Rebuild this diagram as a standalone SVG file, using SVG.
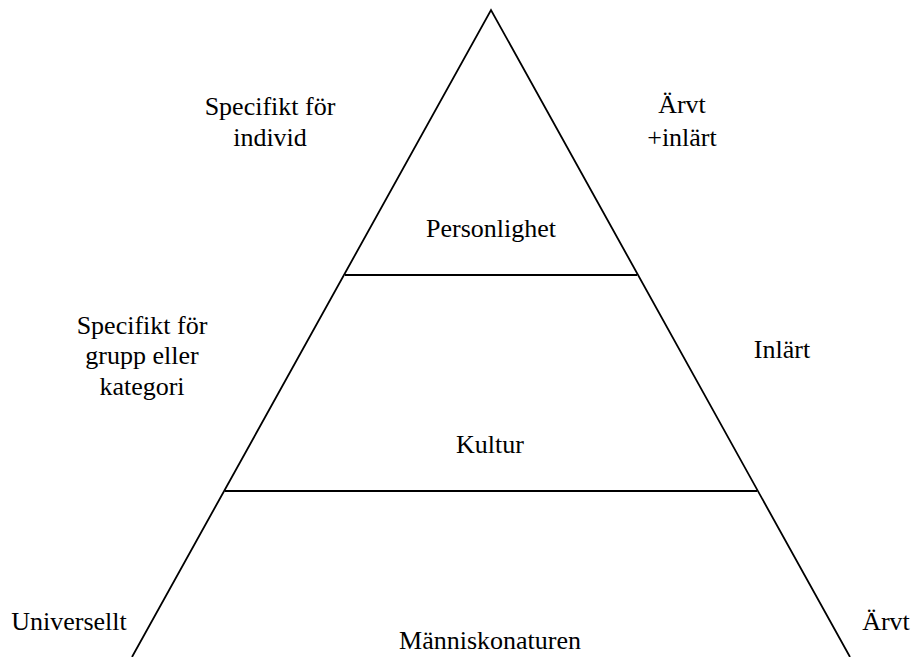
<svg xmlns="http://www.w3.org/2000/svg" width="913" height="657" viewBox="0 0 913 657">
  <style>
    .edge { stroke: #000; stroke-width: 1.8; fill: none; }
    .lbl { font-family: "Liberation Serif", "Times New Roman", serif; font-size: 26px; fill: #000; text-anchor: middle; }
  </style>
  <rect width="913" height="657" fill="#fff"/>

  <!-- pyramid outline and layer dividers -->
  <g id="connectors">
    <path class="edge" d="M132,657 L491,10 L850,657"/>
    <line class="edge" x1="345" y1="275" x2="637" y2="275"/>
    <line class="edge" x1="225" y1="491" x2="757" y2="491"/>
  </g>

  <g id="personlighet">
    <text class="lbl" x="491" y="237">Personlighet</text>
  </g>
  <g id="kultur">
    <text class="lbl" x="490" y="453">Kultur</text>
  </g>
  <g id="manniskonaturen">
    <text class="lbl" x="490" y="649">Människonaturen</text>
  </g>

  <g id="specifikt-individ">
    <text class="lbl" x="270" y="115">Specifikt för</text>
    <text class="lbl" x="270" y="146">individ</text>
  </g>
  <g id="arvt-inlart">
    <text class="lbl" x="682" y="113">Ärvt</text>
    <text class="lbl" x="682" y="146">+inlärt</text>
  </g>
  <g id="specifikt-grupp">
    <text class="lbl" x="142" y="334">Specifikt för</text>
    <text class="lbl" x="142" y="364">grupp eller</text>
    <text class="lbl" x="142" y="395">kategori</text>
  </g>
  <g id="inlart">
    <text class="lbl" x="782" y="358">Inlärt</text>
  </g>
  <g id="universellt">
    <text class="lbl" x="69" y="630">Universellt</text>
  </g>
  <g id="arvt">
    <text class="lbl" x="886" y="630">Ärvt</text>
  </g>
</svg>
